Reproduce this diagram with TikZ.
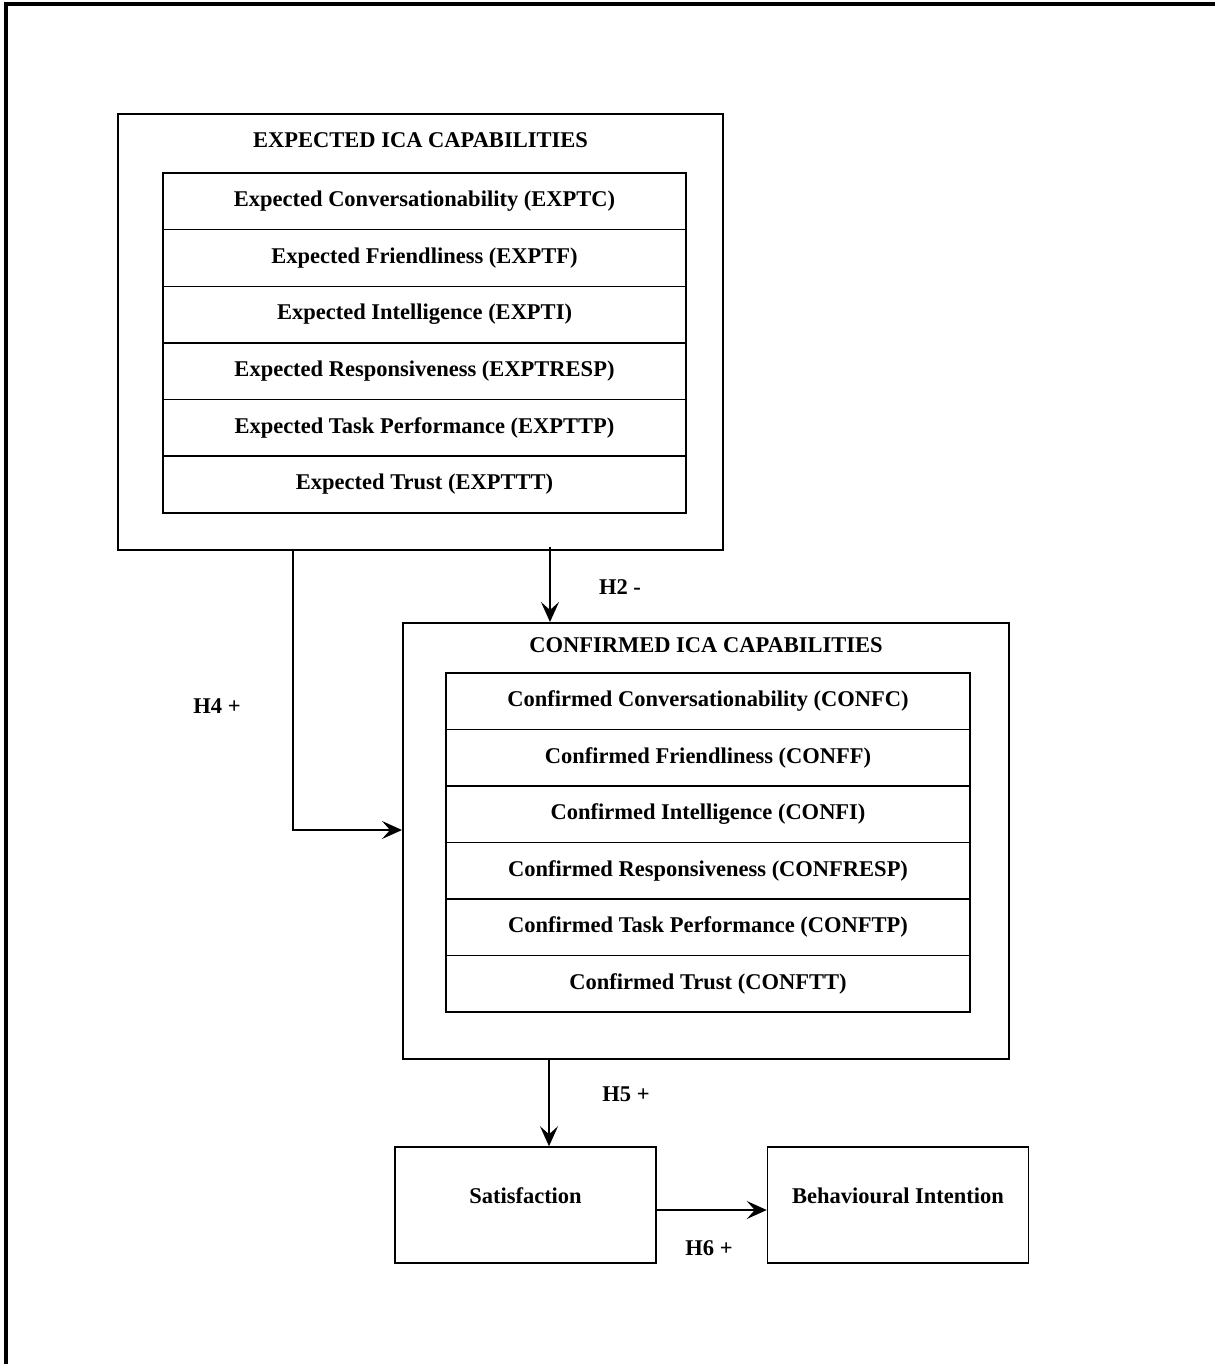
\documentclass[tikz,border=0pt]{standalone}
\usepackage{fontspec}
\setmainfont{Liberation Serif}
\usetikzlibrary{arrows.meta,calc}
\tikzset{
  txt/.style={font=\fontsize{22.5}{26}\selectfont\bfseries},
  outerbox/.style={draw, line width=2pt, minimum width=#1, inner sep=0pt},
  rowbox/.style={draw, line width=1.4pt, minimum width=523pt, minimum height=56.6pt, inner sep=0pt, txt},
  lbl/.style={inner sep=0pt, txt},
  arr/.style={line width=1.5pt, -{Stealth[length=20pt, width=18pt, inset=8pt]}},
  plainbox/.style={draw, line width=1.5pt, minimum width=261pt, minimum height=116pt, inner sep=0pt, text depth=19pt, txt},
}
\begin{document}
\begin{tikzpicture}[x=1pt, y=-1pt]
\useasboundingbox (0,0) rectangle (1215,1364);
\draw[line width=4pt] (6,1364) -- (6,4.3) -- (1215,4.3);
% Expected
\node[outerbox=605pt, minimum height=436pt] (exp) at (420.5,332) {};
\node[lbl] (expt) at (420.5,140) {EXPECTED ICA CAPABILITIES};
\node[rowbox] (e1) at (424.5,201.3) {Expected Conversationability (EXPTC)};
\node[rowbox] (e2) at (424.5,258.0) {Expected Friendliness (EXPTF)};
\node[rowbox] (e3) at (424.5,314.6) {Expected Intelligence (EXPTI)};
\node[rowbox] (e4) at (424.5,371.2) {Expected Responsiveness (EXPTRESP)};
\node[rowbox] (e5) at (424.5,427.8) {Expected Task Performance (EXPTTP)};
\node[rowbox] (e6) at (424.5,484.5) {Expected Trust (EXPTTT)};
% Confirmed
\node[outerbox=606pt, minimum height=436pt] (conf) at (706,841) {};
\node[lbl] (conft) at (706,645) {CONFIRMED ICA CAPABILITIES};
\node[rowbox, minimum width=524pt, minimum height=56.5pt] (c1) at (708,701.2) {Confirmed Conversationability (CONFC)};
\node[rowbox, minimum width=524pt, minimum height=56.5pt] (c2) at (708,757.7) {Confirmed Friendliness (CONFF)};
\node[rowbox, minimum width=524pt, minimum height=56.5pt] (c3) at (708,814.2) {Confirmed Intelligence (CONFI)};
\node[rowbox, minimum width=524pt, minimum height=56.5pt] (c4) at (708,870.7) {Confirmed Responsiveness (CONFRESP)};
\node[rowbox, minimum width=524pt, minimum height=56.5pt] (c5) at (708,927.2) {Confirmed Task Performance (CONFTP)};
\node[rowbox, minimum width=524pt, minimum height=56.5pt] (c6) at (708,983.7) {Confirmed Trust (CONFTT)};
% Bottom boxes
\node[plainbox] (sat) at (525.5,1205) {Satisfaction};
\node[plainbox] (bi) at (898,1205) {Behavioural Intention};
% Labels
\node[lbl] (h2) at (620,587) {H2 -};
\node[lbl] (h4) at (217,706) {H4 +};
\node[lbl] (h5) at (626,1094) {H5 +};
\node[lbl] (h6) at (709,1248) {H6 +};
% Arrows
\draw[arr] ([xshift=129.5pt,yshift=4pt]exp.south) -- ([xshift=129.5pt]exp.south |- conf.north);
\draw[arr] ([xshift=-127.5pt]exp.south) |- ([yshift=11pt]conf.west);
\draw[arr] ([xshift=23.5pt]sat.north |- conf.south) -- ([xshift=23.5pt]sat.north);
\draw[arr] ([yshift=-5pt]sat.east) -- ([yshift=-5pt]sat.east -| bi.west);
\end{tikzpicture}
\end{document}
